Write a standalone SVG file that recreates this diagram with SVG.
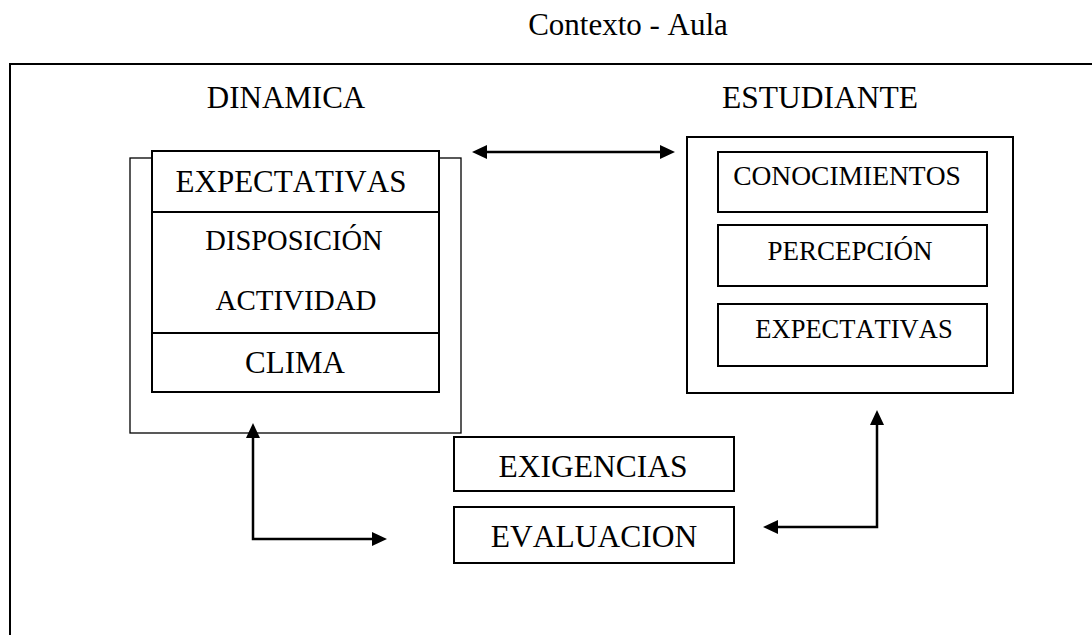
<svg xmlns="http://www.w3.org/2000/svg" width="1092" height="635" viewBox="0 0 1092 635">
<style>
text{font-family:"Liberation Serif","Times New Roman",serif;fill:#000;text-anchor:middle;font-kerning:none}
.box{fill:#fff;stroke:#000;stroke-width:2}
.thin{fill:#fff;stroke:#000;stroke-width:1.3}
.conn{fill:none;stroke:#000;stroke-width:2.5;marker-start:url(#ah);marker-end:url(#ah)}
</style>
<defs>
<marker id="ah" viewBox="0 0 15 14" refX="5" refY="7" markerWidth="15" markerHeight="14" markerUnits="userSpaceOnUse" orient="auto-start-reverse">
<path d="M0,0 L15,7 L0,14 z" fill="#000"/>
</marker>
</defs>
<rect width="1092" height="635" fill="#fff"/>
<g id="contexto">
<path d="M10,635 V64 H1092" fill="none" stroke="#000" stroke-width="2"/>
<text x="628" y="35" font-size="31">Contexto - Aula</text>
</g>
<g id="dinamica">
<text x="286" y="108" font-size="31">DINAMICA</text>
<rect class="thin" x="130" y="158" width="331" height="275"/>
<rect class="box" x="152" y="151" width="287" height="241"/>
<line x1="152" y1="212" x2="439" y2="212" stroke="#000" stroke-width="2"/>
<line x1="152" y1="333" x2="439" y2="333" stroke="#000" stroke-width="2"/>
<text x="291" y="192" font-size="31">EXPECTATIVAS</text>
<text x="294" y="250" font-size="28.5">DISPOSICIÓN</text>
<text x="296" y="310" font-size="29">ACTIVIDAD</text>
<text x="295" y="373" font-size="31">CLIMA</text>
</g>
<g id="estudiante">
<text x="820" y="108" font-size="31.5">ESTUDIANTE</text>
<rect class="box" x="687" y="137" width="326" height="256"/>
<rect class="box" x="718" y="152" width="269" height="60"/>
<rect class="box" x="718" y="225" width="269" height="61"/>
<rect class="box" x="718" y="304" width="269" height="62"/>
<text x="847" y="185" font-size="27.5">CONOCIMIENTOS</text>
<text x="850" y="260" font-size="27">PERCEPCIÓN</text>
<text x="854" y="338" font-size="26.5">EXPECTATIVAS</text>
</g>
<g id="exigencias">
<rect class="box" x="454" y="437" width="280" height="54"/>
<text x="593" y="477" font-size="31.5">EXIGENCIAS</text>
</g>
<g id="evaluacion">
<rect class="box" x="454" y="507" width="280" height="56"/>
<text x="594" y="547" font-size="31.5">EVALUACION</text>
</g>
<g id="connectors">
<path class="conn" d="M482,152 H665"/>
<path class="conn" d="M253,433 V539 H377"/>
<path class="conn" d="M877,420 V527 H773"/>
</g>
</svg>
